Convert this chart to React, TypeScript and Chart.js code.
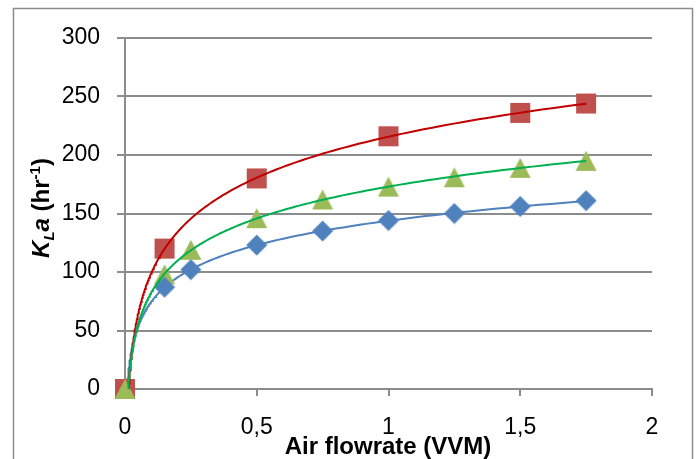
import React, { useEffect, useRef } from "react";
import { Chart, registerables } from "chart.js";

Chart.register(...registerables);

// ---- Data ----
const blueFlow = [0.15, 0.25, 0.5, 0.75, 1.0, 1.25, 1.5, 1.75];
const blueKla = [87, 102, 123, 135, 144, 150, 156, 161];
const redFlow = [0, 0.15, 0.5, 1.0, 1.5, 1.75];
const redKla = [0, 120, 180, 216, 236, 244];
const greenFlow = [0, 0.15, 0.25, 0.5, 0.75, 1.0, 1.25, 1.5, 1.75];
const greenKla = [0, 98, 119, 146, 162, 173, 181, 189, 195];
const xTickValues = [0, 0.5, 1, 1.5, 2];
const xTickLabels = ["0", "0,5", "1", "1,5", "2"];
const yTickValues = [0, 50, 100, 150, 200, 250, 300];

const xTitle = "Air flowrate (VVM)";

const BLUE = "#4F81BD";
const RED = "#C0504D";
const GREEN = "#9BBB59";
const BLUE_LINE = "#4F81BD";
const RED_LINE = "#C00000";
const GREEN_LINE = "#00B050";
const GRID = "#8C8C8C";
const FONT = "'Liberation Sans', Arial, sans-serif";

// logarithmic trendline (least squares on positive x) drawn from the data
function logTrend(xs: number[], ys: number[], xMax: number) {
  const px: number[] = [];
  const py: number[] = [];
  xs.forEach((x, i) => {
    if (x > 0) {
      px.push(Math.log(x));
      py.push(ys[i]);
    }
  });
  const n = px.length;
  const mx = px.reduce((a, b) => a + b, 0) / n;
  const my = py.reduce((a, b) => a + b, 0) / n;
  let sxy = 0;
  let sxx = 0;
  for (let i = 0; i < n; i++) {
    sxy += (px[i] - mx) * (py[i] - my);
    sxx += (px[i] - mx) * (px[i] - mx);
  }
  const a = sxy / sxx;
  const c = my - a * mx;
  const x0 = Math.exp(-c / a);
  const pts: { x: number; y: number }[] = [];
  const N = 200;
  for (let i = 0; i <= N; i++) {
    const x = x0 * Math.pow(xMax / x0, i / N);
    pts.push({ x, y: a * Math.log(x) + c });
  }
  return pts;
}

function makeMarker(kind: string, color: string) {
  const size = 22;
  const cv = document.createElement("canvas");
  cv.width = size;
  cv.height = size;
  const ctx = cv.getContext("2d")!;
  ctx.fillStyle = color;
  ctx.beginPath();
  const m = size / 2;
  if (kind === "square") {
    ctx.rect(1, 1, 20, 20);
  } else if (kind === "diamond") {
    ctx.moveTo(m, 0.5);
    ctx.lineTo(size - 0.5, m);
    ctx.lineTo(m, size - 0.5);
    ctx.lineTo(0.5, m);
    ctx.closePath();
  } else {
    ctx.moveTo(m, 1);
    ctx.lineTo(size - 0.5, 21);
    ctx.lineTo(0.5, 21);
    ctx.closePath();
  }
  ctx.fill();
  return cv;
}

const pointsOf = (xs: number[], ys: number[]) => xs.map((x, i) => ({ x, y: ys[i] }));

export default function App() {
  const ref = useRef<HTMLCanvasElement>(null);

  useEffect(() => {
    if (!ref.current) return;
    const square = makeMarker("square", RED);
    const diamond = makeMarker("diamond", BLUE);
    const triangle = makeMarker("triangle", GREEN);

    const framePlugin = {
      id: "frame",
      beforeDraw(chart: any) {
        const ctx = chart.ctx;
        ctx.save();
        ctx.fillStyle = "#ffffff";
        ctx.fillRect(0, 0, chart.width, chart.height);
        ctx.strokeStyle = GRID;
        ctx.lineWidth = 1.5;
        ctx.strokeRect(13.5, 8.5, 679, 470);
        ctx.restore();
      },
      afterDraw(chart: any) {
        const ctx = chart.ctx;
        ctx.save();
        ctx.fillStyle = "#000000";
        // x title
        ctx.font = `bold 24px ${FONT}`;
        ctx.textAlign = "center";
        ctx.textBaseline = "middle";
        ctx.fillText(xTitle, 388, 447);
        // y title with sub/superscript
        const pieces = [
          { t: "K", f: `italic bold 24px ${FONT}`, dy: 0 },
          { t: "L", f: `italic bold 15px ${FONT}`, dy: 5 },
          { t: "a", f: `italic bold 24px ${FONT}`, dy: 0 },
          { t: " (hr", f: `bold 24px ${FONT}`, dy: 0 },
          { t: "-1", f: `bold 15px ${FONT}`, dy: -9 },
          { t: ")", f: `bold 24px ${FONT}`, dy: 0 },
        ];
        ctx.textAlign = "left";
        ctx.textBaseline = "alphabetic";
        let total = 0;
        const widths = pieces.map((p) => {
          ctx.font = p.f;
          const w = ctx.measureText(p.t).width;
          total += w;
          return w;
        });
        ctx.translate(40, 208);
        ctx.rotate(-Math.PI / 2);
        let x = -total / 2;
        pieces.forEach((p, i) => {
          ctx.font = p.f;
          ctx.fillText(p.t, x, 8.5 + p.dy);
          x += widths[i];
        });
        ctx.restore();
      },
    };

    const chart = new Chart(ref.current, {
      type: "scatter",
      data: {
        datasets: [
          {
            label: "blue trend",
            data: logTrend(blueFlow, blueKla, 1.75),
            showLine: true,
            borderColor: BLUE_LINE,
            borderWidth: 2,
            pointRadius: 0,
            order: 10,
          },
          {
            label: "red",
            data: pointsOf(redFlow, redKla),
            pointStyle: square as any,
            backgroundColor: RED,
            borderColor: RED,
            clip: false,
            order: 9,
          },
          {
            label: "green",
            data: pointsOf(greenFlow, greenKla),
            pointStyle: triangle as any,
            backgroundColor: GREEN,
            borderColor: GREEN,
            clip: false,
            order: 8,
          },
          {
            label: "blue",
            data: pointsOf(blueFlow, blueKla),
            pointStyle: diamond as any,
            backgroundColor: BLUE,
            borderColor: BLUE,
            clip: false,
            order: 7,
          },
          {
            label: "red trend",
            data: logTrend(redFlow, redKla, 1.75),
            showLine: true,
            borderColor: RED_LINE,
            borderWidth: 2,
            pointRadius: 0,
            order: 2,
          },
          {
            label: "green trend",
            data: logTrend(greenFlow, greenKla, 1.75),
            showLine: true,
            borderColor: GREEN_LINE,
            borderWidth: 2,
            pointRadius: 0,
            order: 1,
          },
        ],
      },
      options: {
        animation: false,
        responsive: false,
        devicePixelRatio: 1,
        layout: { padding: { left: 0, right: 45, top: 38, bottom: 0 } },
        plugins: {
          legend: { display: false },
          tooltip: { enabled: false },
        },
        elements: { point: { radius: 10 } },
        scales: {
          x: {
            type: "linear",
            min: 0,
            max: 2,
            afterBuildTicks(axis: any) {
              axis.ticks = xTickValues.map((v) => ({ value: v }));
            },
            afterFit(axis: any) {
              axis.height = 70;
            },
            ticks: {
              padding: 18,
              color: "#000000",
              font: { family: FONT, size: 23 },
              maxRotation: 0,
              autoSkip: false,
              callback: (v: any) => {
                const i = xTickValues.indexOf(Number(v));
                return i >= 0 ? xTickLabels[i] : "";
              },
            },
            grid: {
              drawOnChartArea: false,
              drawTicks: true,
              tickLength: 7,
              color: GRID,
              lineWidth: 2,
            },
            border: { display: true, color: GRID, width: 2 },
          },
          y: {
            type: "linear",
            min: 0,
            max: 300,
            afterBuildTicks(axis: any) {
              axis.ticks = yTickValues.map((v) => ({ value: v }));
            },
            afterFit(axis: any) {
              axis.width = 125;
            },
            ticks: {
              padding: 17,
              color: "#000000",
              font: { family: FONT, size: 23 },
            },
            grid: {
              drawOnChartArea: true,
              drawTicks: true,
              tickLength: 8,
              color: GRID,
              lineWidth: 2,
            },
            border: { display: true, color: GRID, width: 2 },
          },
        },
      },
      plugins: [framePlugin],
    } as any);

    return () => chart.destroy();
  }, []);

  return (
    <div style={{ position: "absolute", left: 0, top: 0, width: 697, height: 459, background: "#fff" }}>
      <canvas ref={ref} width={697} height={459} style={{ display: "block", width: 697, height: 459 }} />
    </div>
  );
}
